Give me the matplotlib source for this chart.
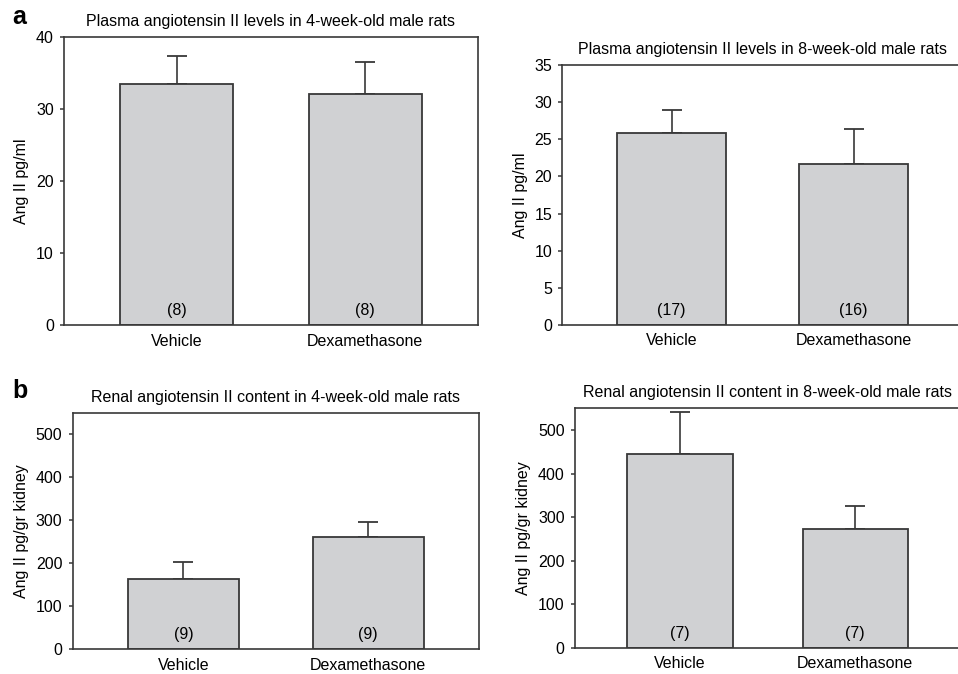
import matplotlib
matplotlib.use("Agg")
import matplotlib.pyplot as plt

plt.rcParams['font.family'] = ['Liberation Sans', 'DejaVu Sans']

categories = ["Vehicle", "Dexamethasone"]

plasma_4wk_mean = [33.4, 32.0]
plasma_4wk_err = [3.9, 4.5]
plasma_4wk_n = ["(8)", "(8)"]

plasma_8wk_mean = [25.9, 21.7]
plasma_8wk_err = [3.1, 4.7]
plasma_8wk_n = ["(17)", "(16)"]

renal_4wk_mean = [163, 261]
renal_4wk_err = [40, 36]
renal_4wk_n = ["(9)", "(9)"]

renal_8wk_mean = [445, 273]
renal_8wk_err = [96, 53]
renal_8wk_n = ["(7)", "(7)"]

titles = [
    "Plasma angiotensin II levels in 4-week-old male rats",
    "Plasma angiotensin II levels in 8-week-old male rats",
    "Renal angiotensin II content in 4-week-old male rats",
    "Renal angiotensin II content in 8-week-old male rats",
]
ylabels = ["Ang II pg/ml", "Ang II pg/ml", "Ang II pg/gr kidney", "Ang II pg/gr kidney"]
yticks_list = [[0, 10, 20, 30, 40], [0, 5, 10, 15, 20, 25, 30, 35],
               [0, 100, 200, 300, 400, 500], [0, 100, 200, 300, 400, 500]]
ylims = [(0, 40), (0, 35), (0, 550), (0, 550)]

W, H = 958, 674
fig = plt.figure(figsize=(W / 100, H / 100), dpi=100)

# pixel boxes: left, top, right, bottom
boxes = [
    (64, 36.7, 478, 325.3),
    (562.3, 65, 963, 325),
    (72.5, 412.7, 479, 649.3),
    (574.7, 408.3, 960.5, 647.7),
]

means = [plasma_4wk_mean, plasma_8wk_mean, renal_4wk_mean, renal_8wk_mean]
errs = [plasma_4wk_err, plasma_8wk_err, renal_4wk_err, renal_8wk_err]
ns = [plasma_4wk_n, plasma_8wk_n, renal_4wk_n, renal_8wk_n]

spine_col = "#383838"
bar_col = "#d0d1d3"
FS = 11.5

for i in range(4):
    l, t, r, b = boxes[i]
    ax = fig.add_axes([l / W, 1 - b / H, (r - l) / W, (b - t) / H])
    x = list(range(len(categories)))
    ax.bar(x, means[i], width=0.6, color=bar_col, edgecolor=spine_col,
           linewidth=1.3, zorder=2)
    ax.errorbar(x, means[i], yerr=[[0] * len(x), errs[i]], fmt='none',
                ecolor=spine_col, elinewidth=1.2, capsize=7, capthick=1.3,
                zorder=1)
    for xi, lab in zip(x, ns[i]):
        ax.annotate(lab, (xi, 0), xytext=(0, 5), textcoords='offset points',
                    ha='center', va='bottom', fontsize=FS)
    ax.set_xlim(-0.6, 1.6)
    ax.set_ylim(*ylims[i])
    ax.set_yticks(yticks_list[i])
    ax.set_xticks(x)
    ax.set_xticklabels(categories)
    ax.tick_params(axis='x', length=0, pad=6, labelsize=FS)
    ax.tick_params(axis='y', length=3.2, width=1.1, color=spine_col,
                   direction='out', pad=4, labelsize=FS)
    for sp in ax.spines.values():
        sp.set_color(spine_col)
        sp.set_linewidth(1.2)
    ax.set_ylabel(ylabels[i], fontsize=FS, labelpad=5)
    ax.set_title(titles[i], fontsize=FS, pad=8)

fig.text(12 / W, 1 - 24 / H, "a", fontsize=18, fontweight='bold', ha='left', va='baseline')
fig.text(12 / W, 1 - 398 / H, "b", fontsize=18, fontweight='bold', ha='left', va='baseline')

fig.savefig("out.png", dpi=100)
